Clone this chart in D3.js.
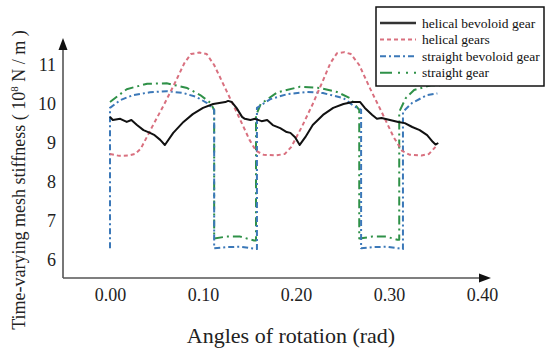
<!DOCTYPE html>
<html>
<head>
<meta charset="utf-8">
<script src="https://cdn.jsdelivr.net/npm/d3@7"></script>
<style>
  body { margin: 0; background: #fff; }
  svg { display: block; font-family: "Liberation Serif", "DejaVu Serif", serif; }
</style>
</head>
<body>
<div id="chart"></div>
<script>
// tick values
const xTicks = [0, 0.1, 0.2, 0.3, 0.4]
const yTicks = [6, 7, 8, 9, 10, 11]

// series: [angle (rad), stiffness (1e8 N/m)]
const helicalBevoloid = [
  [0.000, 9.67], [0.003, 9.59], [0.011, 9.62], [0.018, 9.54], [0.023, 9.59], [0.029, 9.46],
  [0.036, 9.33], [0.043, 9.26], [0.048, 9.20], [0.054, 9.08], [0.059, 8.95], [0.068, 9.26],
  [0.079, 9.54], [0.089, 9.74], [0.100, 9.90], [0.111, 10.00], [0.124, 10.05], [0.127, 10.08],
  [0.131, 10.05], [0.136, 9.90], [0.142, 9.67], [0.145, 9.62], [0.151, 9.59], [0.156, 9.62],
  [0.163, 9.56], [0.169, 9.59], [0.175, 9.46], [0.183, 9.38], [0.190, 9.28], [0.194, 9.26],
  [0.199, 9.15], [0.204, 8.95], [0.210, 9.15], [0.218, 9.46], [0.229, 9.72], [0.240, 9.90],
  [0.251, 10.00], [0.261, 10.05], [0.269, 10.05], [0.274, 9.90], [0.282, 9.72], [0.287, 9.62],
  [0.292, 9.64], [0.301, 9.59], [0.310, 9.54], [0.317, 9.51], [0.325, 9.41], [0.333, 9.33],
  [0.341, 9.20], [0.347, 9.03], [0.350, 8.96], [0.353, 9.00]
]

const helicalGears = [
  [0.000, 8.72], [0.010, 8.67], [0.020, 8.68], [0.027, 8.72], [0.033, 8.85], [0.045, 9.40],
  [0.058, 9.98], [0.070, 10.55], [0.080, 11.05], [0.087, 11.28], [0.096, 11.32], [0.104, 11.28],
  [0.112, 11.00], [0.125, 10.35], [0.138, 9.70], [0.150, 9.08], [0.157, 8.80], [0.165, 8.70],
  [0.178, 8.68], [0.188, 8.72], [0.195, 8.90], [0.207, 9.45], [0.218, 10.00], [0.229, 10.60],
  [0.237, 11.05], [0.244, 11.30], [0.252, 11.33], [0.259, 11.28], [0.268, 11.00], [0.280, 10.38],
  [0.293, 9.75], [0.305, 9.15], [0.314, 8.80], [0.322, 8.70], [0.335, 8.68], [0.343, 8.72],
  [0.350, 8.90]
]

const straightBevoloid = [
  [0.000, 6.30], [0.000, 9.90], [0.011, 10.10], [0.025, 10.23], [0.043, 10.30], [0.061, 10.33],
  [0.079, 10.28], [0.093, 10.18], [0.104, 10.03], [0.112, 9.85], [0.112, 6.30], [0.125, 6.33],
  [0.140, 6.34], [0.152, 6.30], [0.158, 6.28], [0.158, 9.90], [0.172, 10.12], [0.190, 10.25],
  [0.212, 10.31], [0.229, 10.28], [0.251, 10.15], [0.262, 9.95], [0.270, 9.85], [0.270, 6.30],
  [0.282, 6.33], [0.297, 6.34], [0.310, 6.30], [0.315, 6.28], [0.315, 9.80], [0.325, 10.03],
  [0.341, 10.23], [0.352, 10.27]
]

const straightGear = [
  [0.000, 10.05], [0.018, 10.38], [0.040, 10.52], [0.061, 10.53], [0.083, 10.41], [0.097, 10.23],
  [0.108, 10.03], [0.112, 9.85], [0.112, 6.55], [0.125, 6.60], [0.140, 6.60], [0.155, 6.50],
  [0.157, 6.50], [0.157, 9.70], [0.162, 10.00], [0.180, 10.30], [0.204, 10.44], [0.226, 10.41],
  [0.244, 10.31], [0.258, 10.15], [0.268, 9.85], [0.268, 6.55], [0.282, 6.60], [0.297, 6.60],
  [0.309, 6.52], [0.311, 6.52], [0.311, 9.80], [0.318, 10.15], [0.327, 10.36], [0.345, 10.48],
  [0.355, 10.48]
]

const seriesNames = ['helical bevoloid gear', 'helical gears', 'straight bevoloid gear', 'straight gear']

const width = 550, height = 353

const svg = d3.select('#chart').append('svg')
  .attr('width', width)
  .attr('height', height)

const x = d3.scaleLinear().domain([0, 0.4]).range([110, 482])
const y = d3.scaleLinear().domain([6, 11]).range([260, 65])

const line = d3.line().x(d => x(d[0])).y(d => y(d[1]))

const series = [
  { data: straightGear, color: '#2f9148', dash: '9,4,2,4', width: 2 },
  { data: straightBevoloid, color: '#3b78b8', dash: '6,3,2,3', width: 2 },
  { data: helicalGears, color: '#d9707f', dash: '4,3', width: 2 },
  { data: helicalBevoloid, color: '#111', dash: null, width: 2 }
]

svg.append('g').selectAll('path').data(series).enter()
  .append('path')
  .attr('d', d => line(d.data))
  .attr('fill', 'none')
  .attr('stroke', d => d.color)
  .attr('stroke-width', d => d.width)
  .attr('stroke-dasharray', d => d.dash)
  .attr('stroke-linejoin', 'round')

// axes (no tick marks, arrowheads at the ends)
const axisX0 = 63, axisY0 = 278

svg.append('g')
  .attr('transform', `translate(0,${axisY0})`)
  .call(d3.axisBottom(x).tickValues(xTicks).tickSize(0).tickPadding(10).tickFormat(d3.format('.2f')))
  .call(g => g.select('.domain').remove())
  .selectAll('text')
  .attr('font-size', 18)
  .attr('font-family', '"Liberation Serif", serif')
  .attr('fill', '#222')

svg.append('g')
  .attr('transform', `translate(${axisX0},0)`)
  .call(d3.axisLeft(y).tickValues(yTicks).tickSize(0).tickPadding(7).tickFormat(d3.format('d')))
  .call(g => g.select('.domain').remove())
  .selectAll('text')
  .attr('font-size', 18)
  .attr('font-family', '"Liberation Serif", serif')
  .attr('fill', '#222')

svg.append('line')
  .attr('x1', axisX0).attr('y1', axisY0).attr('x2', 482).attr('y2', axisY0)
  .attr('stroke', '#555').attr('stroke-width', 1.6)
svg.append('line')
  .attr('x1', axisX0).attr('y1', axisY0).attr('x2', axisX0).attr('y2', 46)
  .attr('stroke', '#555').attr('stroke-width', 1.6)

svg.append('path')
  .attr('d', `M${axisX0},38 L${axisX0 - 4.5},50 L${axisX0 + 4.5},50 Z`)
  .attr('fill', '#111')
svg.append('path')
  .attr('d', `M491,${axisY0} L479,${axisY0 - 4.5} L479,${axisY0 + 4.5} Z`)
  .attr('fill', '#111')

// axis titles
svg.append('text')
  .attr('x', 291).attr('y', 343)
  .attr('text-anchor', 'middle')
  .attr('font-size', 22)
  .attr('fill', '#222')
  .text('Angles of rotation (rad)')

const yTitle = svg.append('text')
  .attr('transform', 'translate(25,180) rotate(-90)')
  .attr('text-anchor', 'middle')
  .attr('font-size', 18)
  .attr('fill', '#222')
yTitle.append('tspan').text('Time-varying mesh stiffness ( 10')
yTitle.append('tspan').attr('font-size', 11).attr('dy', -7).text('8')
yTitle.append('tspan').attr('dy', 7).text(' N / m )')

// legend
const legend = svg.append('g').attr('transform', 'translate(376,7)')
legend.append('rect')
  .attr('width', 168).attr('height', 79)
  .attr('fill', '#fff')
  .attr('stroke', '#111').attr('stroke-width', 1.5)

const legendStyles = [
  { color: '#333', dash: null },
  { color: '#d9707f', dash: '4,3' },
  { color: '#3b78b8', dash: '6,3,2,3' },
  { color: '#2f9148', dash: '12,6,2,6,2,6' }
]

const items = legend.selectAll('g.item').data(seriesNames).enter()
  .append('g')
  .attr('class', 'item')
  .attr('transform', (d, i) => `translate(0,${16 + i * 16.6})`)

items.append('line')
  .attr('x1', 4).attr('x2', 40)
  .attr('stroke', (d, i) => legendStyles[i].color)
  .attr('stroke-width', (d, i) => i === 0 ? 2.5 : 2)
  .attr('stroke-dasharray', (d, i) => legendStyles[i].dash)

items.append('text')
  .attr('x', 46).attr('y', 4.5)
  .attr('font-size', 13.5)
  .attr('fill', '#111')
  .text(d => d)
</script>
</body>
</html>
